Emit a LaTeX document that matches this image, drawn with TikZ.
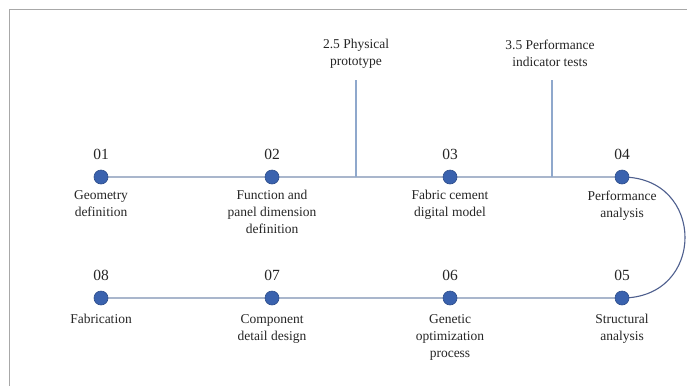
\documentclass[tikz,border=0pt]{standalone}
\usepackage{fontspec}
\setmainfont{Liberation Serif}
\begin{document}
\begin{tikzpicture}[x=1pt,y=-1pt,
  dot/.style={circle,fill=dotblue,draw=dotblue!80!black,line width=0.6pt,minimum width=14pt,inner sep=0pt},
  num/.style={font=\fontsize{15.5}{18}\selectfont,text=black!85},
  lab/.style={font=\fontsize{13.5}{17}\selectfont,text=black!85,align=center,anchor=north},
  tline/.style={draw=lineblue,line width=1.1pt},
  vline/.style={draw=vblue,line width=1.3pt},
  arcline/.style={draw=arcblue,line width=1.1pt}]
\definecolor{dotblue}{HTML}{3A62AE}
\definecolor{lineblue}{HTML}{A9B6CC}
\definecolor{vblue}{HTML}{8FA8CC}
\definecolor{arcblue}{HTML}{4E5F8E}
\definecolor{frame}{HTML}{A8A8A8}
\useasboundingbox (0,0) rectangle (687,386);
\fill[white] (0,0) rectangle (687,386);
\draw[frame,line width=1.6pt] (9.5,386) -- (9.5,9.5) -- (687,9.5);
% coordinates
\coordinate (p1) at (101,177);
\coordinate (p2) at (272,177);
\coordinate (p3) at (450,177);
\coordinate (p4) at (622,177);
\coordinate (p5) at (622,298);
\coordinate (p6) at (450,298);
\coordinate (p7) at (272,298);
\coordinate (p8) at (101,298);
\coordinate (v1) at (356,177);
\coordinate (v2) at (552,177);
\coordinate (t1) at (356,80);
\coordinate (t2) at (552,80);
% lines
\draw[tline] (p1) -- (p4);
\draw[tline] (p8) -- (p5);
\draw[vline] (t1) -- (v1);
\draw[vline] (t2) -- (v2);
\draw[arcline] (p4) .. controls (706,177) and (706,298) .. (p5);
% dots
\foreach \i in {1,...,8} \node[dot] (d\i) at (p\i) {};
% numbers
\node[num] (n1) at (101,154) {01};
\node[num] (n2) at (272,154) {02};
\node[num] (n3) at (450,154) {03};
\node[num] (n4) at (622,154) {04};
\node[num] (n5) at (622,275) {05};
\node[num] (n6) at (450,275) {06};
\node[num] (n7) at (272,275) {07};
\node[num] (n8) at (101,275) {08};
% labels
\node[lab] (l1) at (101,187) {Geometry\\definition};
\node[lab] (l2) at (272,187) {Function and\\panel dimension\\definition};
\node[lab] (l3) at (450,187) {Fabric cement\\digital model};
\node[lab] (l4) at (622,187) {Performance\\analysis};
\node[lab] (l5) at (622,311) {Structural\\analysis};
\node[lab] (l6) at (450,311) {Genetic\\optimization\\process};
\node[lab] (l7) at (272,311) {Component\\detail design};
\node[lab] (l8) at (101,311) {Fabrication};
\node[lab] (u1) at (356,36) {2.5 Physical\\prototype};
\node[lab] (u2) at (550,36) {3.5 Performance\\indicator tests};
\end{tikzpicture}
\end{document}
